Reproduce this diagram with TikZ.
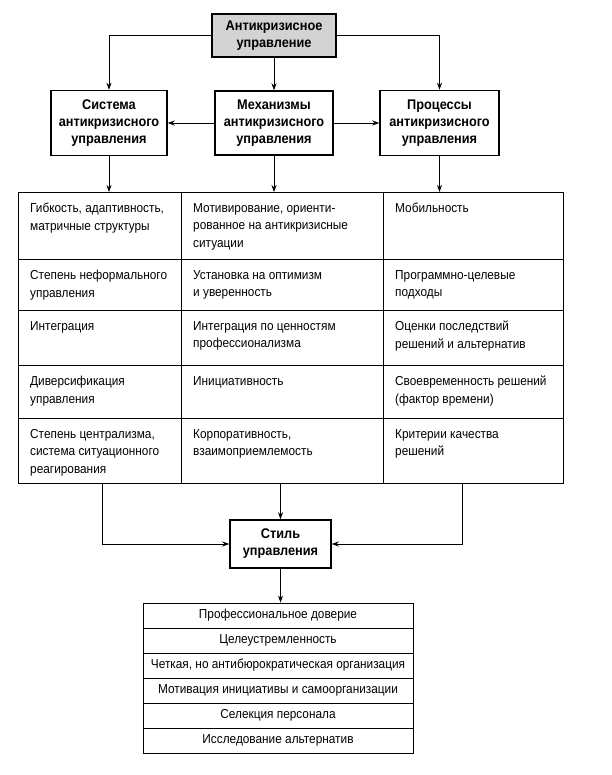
\documentclass[tikz,border=0pt]{standalone}
\usepackage{fontspec}
\setmainfont{Liberation Sans}[FakeStretch=0.91]
\usetikzlibrary{arrows.meta,calc}
\definecolor{topgray}{HTML}{D3D3D3}
\begin{document}
\begin{tikzpicture}[x=1pt,y=-1pt,
  box/.style={draw, line width=1.5pt, font=\fontsize{14}{17}\selectfont\bfseries, align=center, inner sep=0pt},
  cell/.style={draw, line width=0.8pt, inner sep=0pt, anchor=north west},
  ctext/.style={font=\fontsize{13}{17.5}\selectfont, align=left, inner sep=0pt, anchor=north west},
  btext/.style={draw, line width=0.8pt, font=\fontsize{13}{16}\selectfont, inner sep=0pt, minimum width=270pt, minimum height=25pt},
  arr/.style={-{Stealth[length=7pt,width=5pt]}, line width=0.8pt}]
\useasboundingbox (0,0) rectangle (611,775);
\fill[white] (0,0) rectangle (611,775);

% top level
\node[box, fill=topgray, minimum width=124pt, minimum height=43pt] (top) at (274,35.5) {Антикризисное\\управление};
\node[box, minimum width=116pt, minimum height=65pt] (sys) at (109,123) {Система\\антикризисного\\управления};
\node[box, minimum width=118pt, minimum height=64pt] (mech) at (274,123) {Механизмы\\антикризисного\\управления};
\node[box, minimum width=119pt, minimum height=65pt] (proc) at (439.5,123) {Процессы\\антикризисного\\управления};

% table
\foreach \r/\y/\h in {1/192/67,2/259/51,3/310/55,4/365/53,5/418/65}
  \foreach \c/\x/\w in {1/18/163,2/181/202,3/383/180}
    \node[cell, minimum width=\w pt, minimum height=\h pt] (c\r\c) at (\x,\y) {};

\node[ctext] at ($(c11.north west)+(12,11)$) {Гибкость, адаптивность,\\матричные структуры};
\node[ctext] at ($(c12.north west)+(12,11)$) {Мотивирование, ориенти-\\рованное на антикризисные\\ситуации};
\node[ctext] at ($(c13.north west)+(12,11)$) {Мобильность};
\node[ctext] at ($(c21.north west)+(12,11)$) {Степень неформального\\управления};
\node[ctext] at ($(c22.north west)+(12,11)$) {Установка на оптимизм\\и уверенность};
\node[ctext] at ($(c23.north west)+(12,11)$) {Программно-целевые\\подходы};
\node[ctext] at ($(c31.north west)+(12,11)$) {Интеграция};
\node[ctext] at ($(c32.north west)+(12,11)$) {Интеграция по ценностям\\профессионализма};
\node[ctext] at ($(c33.north west)+(12,11)$) {Оценки последствий\\решений и альтернатив};
\node[ctext] at ($(c41.north west)+(12,11)$) {Диверсификация\\управления};
\node[ctext] at ($(c42.north west)+(12,11)$) {Инициативность};
\node[ctext] at ($(c43.north west)+(12,11)$) {Своевременность решений\\(фактор времени)};
\node[ctext] at ($(c51.north west)+(12,11)$) {Степень централизма,\\система ситуационного\\реагирования};
\node[ctext] at ($(c52.north west)+(12,11)$) {Корпоративность,\\взаимоприемлемость};
\node[ctext] at ($(c53.north west)+(12,11)$) {Критерии качества\\решений};

% style
\node[box, minimum width=101pt, minimum height=48pt] (style) at (280.5,544) {Стиль\\управления};

% bottom table
\node[btext] (b1) at (278,615.5) {Профессиональное доверие};
\node[btext] (b2) at (278,640.5) {Целеустремленность};
\node[btext] (b3) at (278,665.5) {Четкая, но антибюрократическая организация};
\node[btext] (b4) at (278,690.5) {Мотивация инициативы и самоорганизации};
\node[btext] (b5) at (278,715.5) {Селекция персонала};
\node[btext] (b6) at (278,740.5) {Исследование альтернатив};

% connectors
\draw[arr] (top.west) -| (sys.north);
\draw[arr] (top.east) -| (proc.north);
\draw[arr] (top.south) -- (mech.north);
\draw[arr] (mech.west) -- (sys.east);
\draw[arr] (mech.east) -- (proc.west);
\draw[arr] (sys.south) -- (sys.south |- c11.north);
\draw[arr] (mech.south) -- (mech.south |- c12.north);
\draw[arr] (proc.south) -- (proc.south |- c13.north);

\coordinate (l1) at (102,483);
\coordinate (l3) at (462,483);
\draw[arr] (l1) |- (style.west);
\draw[arr] (l3) |- (style.east);
\draw[arr] (style.north |- c52.south) -- (style.north);
\draw[arr] (style.south) -- (style.south |- b1.north);
\end{tikzpicture}
\end{document}
